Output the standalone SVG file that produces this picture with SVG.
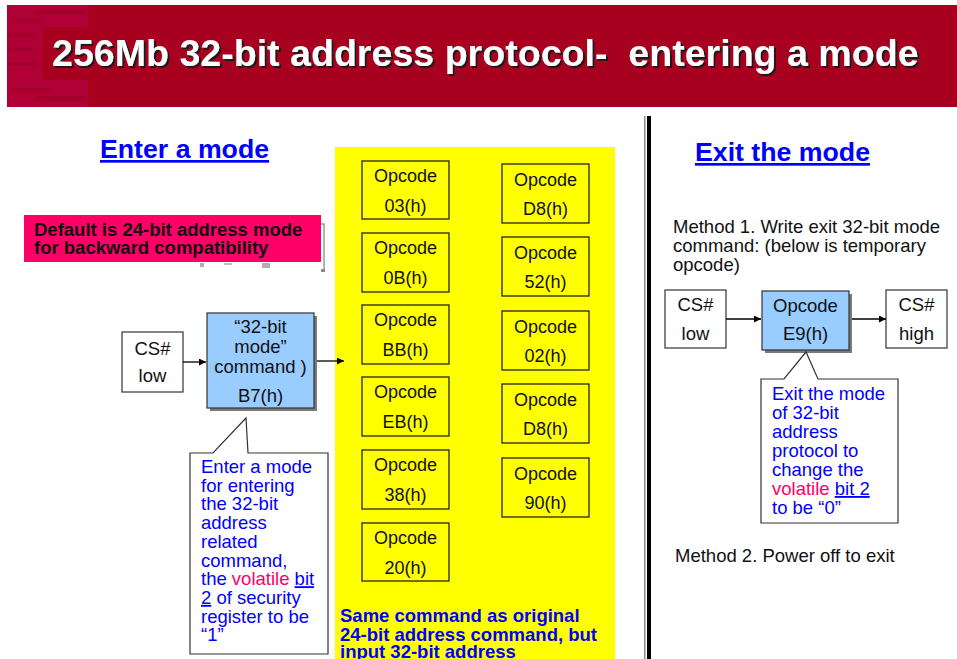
<svg xmlns="http://www.w3.org/2000/svg" width="957" height="659" viewBox="0 0 957 659">
  <style>
    text { font-family: "Liberation Sans", Arial, sans-serif; }
    .title { font-size: 37.6px; font-weight: bold; fill: #ffffff; filter: url(#titleShadow); }
    .heading { font-size: 26.7px; font-weight: bold; fill: #0000ff; text-decoration: underline; }
    .box { fill: #ffffff; stroke: #333333; stroke-width: 1.2; }
    .op { fill: none; stroke: #222222; stroke-width: 1.3; }
    .cmd { fill: #99ccff; stroke: #333333; stroke-width: 1.2; }
    .shadow { fill: #7a7a7a; }
    .lbl { font-size: 18.5px; fill: #111111; text-anchor: middle; }
    .opl { font-size: 18px; fill: #111111; text-anchor: middle; }
    .note { font-size: 18.5px; fill: #0000ff; }
    .hot { fill: #ff0066; }
    .ul { text-decoration: underline; }
    .plain { font-size: 18.5px; fill: #111111; }
    .bold-note { font-size: 18.5px; font-weight: bold; fill: #0000ff; }
    .warn { font-size: 18.5px; font-weight: bold; fill: #111111; }
    .conn { stroke: #000000; stroke-width: 1.3; fill: none; marker-end: url(#arrow); }
    .callout { fill: #ffffff; stroke: #333333; stroke-width: 1.2; }
  </style>
  <defs>
    <marker id="arrow" viewBox="0 0 10 10" refX="10" refY="5" markerWidth="8" markerHeight="7" markerUnits="userSpaceOnUse" orient="auto">
      <path d="M0,0 L10,5 L0,10 Z" fill="#000000"/>
    </marker>
    <!-- hard offset shadow under the banner title -->
    <filter id="titleShadow" x="-5%" y="-20%" width="110%" height="140%">
      <feOffset in="SourceAlpha" dx="2" dy="2" result="off"/>
      <feFlood flood-color="#1a1a1a"/>
      <feComposite in2="off" operator="in" result="shade"/>
      <feMerge>
        <feMergeNode in="shade"/>
        <feMergeNode in="SourceGraphic"/>
      </feMerge>
    </filter>
  </defs>

  <!-- page background -->
  <rect x="0" y="0" width="957" height="659" fill="#ffffff"/>

  <!-- title banner -->
  <g id="title-bar">
    <rect x="7" y="5" width="950" height="102" fill="#a8001f"/>
    <rect x="7" y="5" width="81" height="22" fill="#b00036"/>
    <rect x="7" y="27" width="35" height="53" fill="#b00036"/>
    <rect x="7" y="80" width="81" height="27" fill="#b00036"/>
    <rect x="36" y="10" width="50" height="5" fill="#a3002c"/>
    <rect x="12" y="19" width="30" height="4" fill="#a3002c"/>
    <rect x="7" y="33" width="30" height="4" fill="#a3002c"/>
    <rect x="7" y="47" width="28" height="4" fill="#a3002c"/>
    <rect x="7" y="62" width="30" height="4" fill="#a3002c"/>
    <rect x="12" y="88" width="40" height="4" fill="#a3002c"/>
    <rect x="36" y="96" width="50" height="5" fill="#a3002c"/>
    <text class="title" x="52" y="66" xml:space="preserve">256Mb 32-bit address protocol-  entering a mode</text>
  </g>

  <!-- column divider -->
  <g id="divider">
    <rect x="644" y="116" width="1.5" height="543" fill="#8c8c8c"/>
    <rect x="647" y="116" width="4" height="543" fill="#000000"/>
  </g>

  <!-- left column: entering -->
  <g id="heading-enter">
    <text class="heading" x="100" y="158">Enter a mode</text>
  </g>

  <g id="default-note">
    <path d="M321,224 H324 V271" fill="none" stroke="#9a9a9a" stroke-width="1.5"/>
    <rect x="321" y="269" width="4" height="3" fill="#8a8a8a"/>
    <rect x="200" y="263" width="4" height="4" fill="#b0b0b0"/>
    <rect x="224" y="263" width="8" height="2" fill="#c0c0c0"/>
    <rect x="262" y="263" width="8" height="5" fill="#b0b0b0"/>
    <rect x="24" y="215" width="297" height="47" fill="#ff0066"/>
    <text class="warn" x="34" y="236">Default is 24-bit address mode</text>
    <text class="warn" x="34" y="254">for backward compatibility</text>
  </g>

  <g id="cs-low-enter">
    <rect class="box" x="122" y="332" width="61" height="60"/>
    <text class="lbl" x="152.5" y="355">CS#</text>
    <text class="lbl" x="152.5" y="382">low</text>
  </g>

  <g id="cmd-b7">
    <rect class="shadow" x="210" y="316" width="107" height="95"/>
    <rect class="cmd" x="207" y="313" width="107" height="95"/>
    <text class="lbl" x="260.5" y="333">“32-bit</text>
    <text class="lbl" x="260.5" y="353">mode”</text>
    <text class="lbl" x="260.5" y="373">command )</text>
    <text class="lbl" x="260.5" y="402">B7(h)</text>
  </g>

  <g id="note-enter">
    <path class="callout" d="M190,453 H213 L246,418 L248,453 H328 V654 H190 Z"/>
    <text class="note" x="201" y="473">Enter a mode</text>
    <text class="note" x="201" y="491.7">for entering</text>
    <text class="note" x="201" y="510.4">the 32-bit</text>
    <text class="note" x="201" y="529.1">address</text>
    <text class="note" x="201" y="547.8">related</text>
    <text class="note" x="201" y="566.5">command,</text>
    <text class="note" x="201" y="585.2">the <tspan class="hot">volatile</tspan> <tspan class="ul">bit</tspan></text>
    <text class="note" x="201" y="603.9"><tspan class="ul">2</tspan> of security</text>
    <text class="note" x="201" y="622.6">register to be</text>
    <text class="note" x="201" y="641.3">“1”</text>
  </g>

  <!-- opcode panel -->
  <g id="opcode-panel">
    <rect x="335" y="147" width="280" height="512" fill="#ffff00"/>
    <text class="bold-note" x="340" y="622">Same command as original</text>
    <text class="bold-note" x="340" y="641">24-bit address command, but</text>
    <text class="bold-note" x="340" y="658">input 32-bit address</text>
  </g>

  <g id="op-03">
    <rect class="op" x="362" y="161" width="87" height="58"/>
    <text class="opl" x="405.5" y="182">Opcode</text>
    <text class="opl" x="405.5" y="212">03(h)</text>
  </g>
  <g id="op-0b">
    <rect class="op" x="362" y="233" width="87" height="59"/>
    <text class="opl" x="405.5" y="254">Opcode</text>
    <text class="opl" x="405.5" y="284">0B(h)</text>
  </g>
  <g id="op-bb">
    <rect class="op" x="362" y="305" width="87" height="59"/>
    <text class="opl" x="405.5" y="326">Opcode</text>
    <text class="opl" x="405.5" y="356">BB(h)</text>
  </g>
  <g id="op-eb">
    <rect class="op" x="362" y="377" width="87" height="59"/>
    <text class="opl" x="405.5" y="398">Opcode</text>
    <text class="opl" x="405.5" y="428">EB(h)</text>
  </g>
  <g id="op-38">
    <rect class="op" x="362" y="450" width="87" height="59"/>
    <text class="opl" x="405.5" y="471">Opcode</text>
    <text class="opl" x="405.5" y="501">38(h)</text>
  </g>
  <g id="op-20">
    <rect class="op" x="362" y="523" width="87" height="58"/>
    <text class="opl" x="405.5" y="544">Opcode</text>
    <text class="opl" x="405.5" y="574">20(h)</text>
  </g>

  <g id="op-d8-a">
    <rect class="op" x="502" y="164" width="87" height="59"/>
    <text class="opl" x="545.5" y="186">Opcode</text>
    <text class="opl" x="545.5" y="215">D8(h)</text>
  </g>
  <g id="op-52">
    <rect class="op" x="502" y="237" width="87" height="59"/>
    <text class="opl" x="545.5" y="259">Opcode</text>
    <text class="opl" x="545.5" y="288">52(h)</text>
  </g>
  <g id="op-02">
    <rect class="op" x="502" y="311" width="87" height="59"/>
    <text class="opl" x="545.5" y="333">Opcode</text>
    <text class="opl" x="545.5" y="362">02(h)</text>
  </g>
  <g id="op-d8-b">
    <rect class="op" x="502" y="384" width="87" height="59"/>
    <text class="opl" x="545.5" y="406">Opcode</text>
    <text class="opl" x="545.5" y="435">D8(h)</text>
  </g>
  <g id="op-90">
    <rect class="op" x="502" y="458" width="87" height="59"/>
    <text class="opl" x="545.5" y="480">Opcode</text>
    <text class="opl" x="545.5" y="509">90(h)</text>
  </g>

  <!-- right column: exiting -->
  <g id="heading-exit">
    <text class="heading" x="695" y="161">Exit the mode</text>
  </g>

  <g id="method-1">
    <text class="plain" x="673" y="233">Method 1. Write exit 32-bit mode</text>
    <text class="plain" x="673" y="252">command: (below is temporary</text>
    <text class="plain" x="673" y="271">opcode)</text>
  </g>

  <g id="cs-low-exit">
    <rect class="box" x="665" y="290" width="61" height="58"/>
    <text class="lbl" x="695.5" y="311">CS#</text>
    <text class="lbl" x="695.5" y="340">low</text>
  </g>

  <g id="cmd-e9">
    <rect class="shadow" x="765" y="294" width="87" height="59"/>
    <rect class="cmd" x="762" y="291" width="87" height="59"/>
    <text class="lbl" x="805.5" y="312">Opcode</text>
    <text class="lbl" x="805.5" y="340">E9(h)</text>
  </g>

  <g id="cs-high">
    <rect class="box" x="886" y="290" width="61" height="58"/>
    <text class="lbl" x="916.5" y="311">CS#</text>
    <text class="lbl" x="916.5" y="340">high</text>
  </g>

  <g id="note-exit">
    <path class="callout" d="M761,379 H784 L806,352 L818,379 H898 V523 H761 Z"/>
    <text class="note" x="772" y="400">Exit the mode</text>
    <text class="note" x="772" y="419">of 32-bit</text>
    <text class="note" x="772" y="438">address</text>
    <text class="note" x="772" y="457">protocol to</text>
    <text class="note" x="772" y="476">change the</text>
    <text class="note" x="772" y="495"><tspan class="hot">volatile</tspan> <tspan class="ul">bit 2</tspan></text>
    <text class="note" x="772" y="514">to be “0”</text>
  </g>

  <g id="method-2">
    <text class="plain" x="675" y="562">Method 2. Power off to exit</text>
  </g>

  <!-- connectors -->
  <g id="connectors">
    <line class="conn" x1="183" y1="362" x2="206" y2="362"/>
    <line class="conn" x1="317" y1="361" x2="344" y2="361"/>
    <line class="conn" x1="726" y1="319" x2="761" y2="319"/>
    <line class="conn" x1="852" y1="319" x2="886" y2="319"/>
  </g>
</svg>
